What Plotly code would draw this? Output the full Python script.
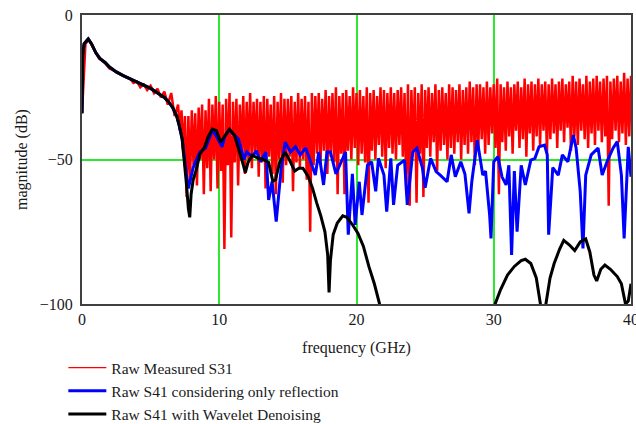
import numpy as np
import plotly.graph_objects as go

# ---------------- data ----------------
# Raw Measured S31 (red): coarse samples 0..6.75 GHz, then fine samples 7..40 GHz
red_freq_coarse = np.arange(0.0, 7.0, 0.25)
red_db_coarse = [-34, -10, -8.5, -11, -13, -15, -16, -17, -18.5, -19, -19.8, -20.5,
                 -21, -21.5, -22, -23.5, -23, -25, -24, -26, -24.5, -27, -25.5, -28.5,
                 -26.5, -31, -27, -35]
red_freq_fine = np.arange(7.0, 40.0001, 0.125)
red_db_fine = [
    -31, -40, -33, -48, -35, -63, -35, -57, -33, -52, -34, -59, -32, -50, -31, -62,
    -33, -53, -29, -61, -31, -50, -28, -60, -30, -54, -31, -81, -29, -52, -27, -77,
    -30, -51, -29, -59, -31, -49, -28, -55, -30, -50, -27, -53, -30, -48, -29, -56,
    -30, -51, -28, -60, -29, -49, -31, -55, -28, -62, -30, -50, -27, -58, -29, -52,
    -29, -49, -28, -61, -30, -51, -27, -53, -29, -50, -28, -57, -30, -75, -27, -52,
    -28, -48, -27, -52, -29, -47, -26, -55, -28, -49, -27, -51, -25, -62, -28, -48,
    -27, -62, -26, -47, -28, -50, -25, -46, -27, -52, -26, -48, -28, -51, -25, -65,
    -27, -47, -26, -50, -28, -45, -25, -49, -26, -53, -27, -46, -25, -48, -27, -50,
    -26, -45, -25, -49, -27, -62, -24, -66, -26, -47, -25, -65, -27, -48, -24, -63,
    -26, -46, -25, -49, -27, -44, -24, -54, -26, -47, -25, -45, -27, -50, -24, -46,
    -25, -48, -26, -44, -24, -50, -26, -45, -25, -48, -23, -44, -25, -52, -24, -46,
    -24, -43, -25, -48, -23, -45, -25, -41, -24, -46, -22, -62, -24, -44, -25, -47,
    -23, -42, -25, -48, -24, -40, -23, -46, -25, -43, -22, -49, -24, -41, -23, -47,
    -24, -42, -22, -45, -24, -40, -23, -48, -24, -43, -22, -41, -24, -46, -23, -40,
    -22, -44, -24, -39, -23, -47, -21, -42, -23, -45, -22, -40, -24, -43, -21, -46,
    -23, -41, -22, -45, -21, -40, -23, -44, -22, -42, -21, -66, -23, -43, -22, -40,
    -21, -44, -23, -41, -20, -45, -22, -42, -21,
]

# Raw S41 with Wavelet Denoising (black)
black_freq = [0.0, 0.05, 0.15, 0.45, 0.7, 1.0, 1.3, 1.7, 2.0, 2.5, 3.0, 3.7, 4.2, 4.6, 5.0,
              5.5, 6.0, 6.3, 6.6, 6.9, 7.1, 7.3, 7.45, 7.6, 7.75, 7.85, 7.95, 8.1, 8.3,
              8.6, 8.9, 9.2, 9.5, 9.8, 10.1, 10.4, 10.75, 11.1, 11.4, 11.7, 11.9, 12.1,
              12.4, 12.8, 13.2, 13.6, 13.9, 14.1, 14.4, 14.8, 15.1, 15.5, 15.8, 16.1,
              16.5, 16.8, 17.1, 17.4, 17.7, 17.9, 18.0, 18.1, 18.3, 18.6, 19.0, 19.3,
              19.7, 20.1, 20.5, 20.9, 21.3, 21.7, 22.0, 22.5, 26.0, 29.5, 30.0, 30.1,
              30.5, 31.0, 31.5, 32.0, 32.3, 32.7, 33.1, 33.4, 33.6, 33.8, 34.1, 34.4,
              34.8, 35.1, 35.5, 35.9, 36.3, 36.7, 37.0, 37.3, 37.5, 37.8, 38.1, 38.5,
              39.0, 39.3, 39.6, 39.8, 40.0]
black_db = [-34, -14, -10, -8.3, -10, -13, -15, -16.5, -18, -19.7, -21, -22.5, -23.5,
            -24.5, -25.4, -27, -28.5, -30, -32, -35, -38.5, -43, -50, -58, -67, -70, -62,
            -57, -54, -48, -46, -42, -39.5, -40, -44, -42, -39.5, -41.5, -46, -51, -54.5,
            -51, -48.5, -49.5, -50, -51, -57.5, -57, -51, -47.5, -50, -54, -53, -53, -56,
            -60, -65, -69.5, -75, -83, -96, -85, -76, -72, -69.5, -70, -72.5, -75.5, -80,
            -87, -93, -100, -106, -115, -130, -112, -102, -100, -95, -90, -87, -85, -84.5,
            -86, -91, -100, -103, -100, -91, -86, -81, -78, -79.5, -81.5, -78.5, -77.5,
            -82, -90, -92, -88, -86.5, -88, -90.5, -93, -100, -99, -93]

# Raw S41 considering only reflection (blue)
blue_freq = [0.0, 0.05, 0.15, 0.45, 0.7, 1.0, 1.3, 1.7, 2.0, 2.5, 3.0, 3.7, 4.2, 4.6, 5.0,
             5.5, 6.0, 6.3, 6.6, 6.9, 7.1, 7.3, 7.45, 7.6, 7.75, 7.9, 8.1, 8.25, 8.6, 9.0,
             9.5, 9.8, 10.2, 10.4, 10.7, 11.0, 11.4, 11.8, 12.0, 12.4, 12.7, 13.0, 13.4,
             13.6, 13.85, 14.15, 14.5, 14.8, 15.2, 15.55, 15.9, 16.3, 16.6, 17.0, 17.25,
             17.6, 17.85, 18.1, 18.5, 18.8, 19.2, 19.4, 19.7, 19.9, 20.2, 20.4, 20.8,
             21.1, 21.4, 21.6, 22.0, 22.2, 22.5, 22.7, 23.0, 23.5, 23.7, 24.1, 24.4,
             24.8, 25.0, 25.4, 25.8, 26.1, 26.6, 26.9, 27.2, 27.6, 27.9, 28.2, 28.4,
             28.8, 29.2, 29.4, 29.7, 29.8, 30.0, 30.3, 30.6, 30.9, 31.1, 31.3, 31.5,
             31.7, 32.0, 32.3, 32.7, 33.0, 33.3, 33.7, 33.9, 34.0, 34.3, 34.7, 35.0,
             35.4, 35.8, 36.0, 36.3, 36.5, 36.7, 37.1, 37.6, 37.9, 38.3, 38.7, 39.0,
             39.3, 39.5, 39.8, 40.0]
blue_db = [-34, -14, -10, -8.3, -10, -13, -15, -16.5, -18, -19.7, -21, -22.5, -23.5,
           -24.5, -25.4, -27, -28.5, -30, -32, -35, -38.5, -43, -50, -55, -60, -57,
           -52.8, -51, -47.4, -46, -39.8, -42, -45.6, -42, -39.8, -41, -43, -50, -47.4,
           -49, -47, -50.8, -47.4, -64, -57.6, -71.5, -53.6, -44, -47.4, -45.6, -48.4,
           -46, -50.2, -55.4, -47.4, -58.8, -47.4, -47.4, -55, -52, -47.4, -76, -55,
           -72.6, -57.7, -69.2, -52, -50.8, -61, -49.6, -55.4, -68, -49.6, -65.7, -52,
           -50.2, -65.7, -47.4, -46.1, -52.8, -59.8, -49.6, -54.2, -55.4, -57.7, -48.4,
           -56, -50.8, -55, -68.6, -57.7, -43.3, -55.4, -54, -69.2, -77.3, -50.8, -49,
           -56, -58.8, -52, -83, -54, -75, -52, -58.8, -50.2, -49.6, -45.6, -45, -48.4,
           -76, -52.8, -55.4, -48.4, -50.8, -41.5, -46, -61, -80.8, -55.4, -48.4, -46,
           -55.4, -50.2, -46, -43.8, -55.4, -77.3, -45.6, -56]

x_ticks = [0, 10, 20, 30, 40]
y_ticks = [0, -50, -100]
y_tick_text = ["0", "\u221250", "\u2212100"]

series_names = ["Raw Measured S31", "Raw S41 considering only reflection",
                "Raw S41 with Wavelet Denoising"]

# ---------------- figure ----------------
red_freq = list(red_freq_coarse) + list(red_freq_fine)
red_db = red_db_coarse + red_db_fine

FONT = "Liberation Serif, Times New Roman, serif"
TXT = "#1a1a1a"
GRID = "#2ee82e"

fig = go.Figure()
# red trace drawn dense; its legend entry uses a thin line like the reference
fig.add_trace(go.Scatter(x=red_freq, y=red_db, mode="lines", name=series_names[0],
                         legendgroup="red", showlegend=False,
                         line=dict(color="#ff0000", width=2.5)))
fig.add_trace(go.Scatter(x=[None], y=[None], mode="lines", name=series_names[0],
                         legendgroup="red", showlegend=True,
                         line=dict(color="#ff0000", width=1.2)))
fig.add_trace(go.Scatter(x=blue_freq, y=blue_db, mode="lines", name=series_names[1],
                         line=dict(color="#0000ff", width=3)))
fig.add_trace(go.Scatter(x=black_freq, y=black_db, mode="lines", name=series_names[2],
                         line=dict(color="#000000", width=3)))

fig.update_layout(
    width=636, height=424,
    margin=dict(l=82, r=5, t=15, b=120, autoexpand=False),
    paper_bgcolor="white", plot_bgcolor="white",
    font=dict(family=FONT, size=16, color=TXT),
    showlegend=True,
    legend=dict(x=-0.034, y=-0.163, xanchor="left", yanchor="top",
                bgcolor="rgba(0,0,0,0)", borderwidth=0,
                font=dict(family=FONT, size=15.5, color=TXT),
                tracegroupgap=0, itemwidth=38),
    xaxis=dict(range=[0, 40], tickvals=x_ticks, ticktext=[str(v) for v in x_ticks],
               showgrid=True, gridcolor=GRID, gridwidth=1.5,
               showline=True, mirror=True, linecolor="#404040", linewidth=2,
               ticks="", zeroline=False, ticklabeloverflow="allow",
               title=dict(text="frequency (GHz)", standoff=15,
                          font=dict(family=FONT, size=16, color=TXT))),
    yaxis=dict(range=[-100, 0], tickvals=y_ticks, ticktext=y_tick_text,
               showgrid=True, gridcolor=GRID, gridwidth=1.5,
               showline=True, mirror=True, linecolor="#404040", linewidth=2,
               ticks="", zeroline=False, ticklabelstandoff=4,
               title=dict(text="magnitude (dB)", standoff=8,
                          font=dict(family=FONT, size=16, color=TXT))),
)

fig.write_html("out.html")
